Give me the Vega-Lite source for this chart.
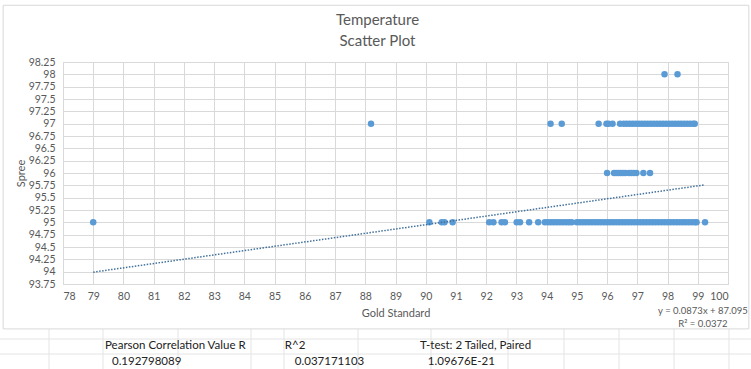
{
  "$schema": "https://vega.github.io/schema/vega-lite/v6.json",
  "width": 665,
  "height": 222,
  "autosize": {"type": "none"},
  "padding": {"left": 63, "top": 62, "right": 23, "bottom": 85},
  "background": "white",
  "config": {
    "view": {"stroke": "#d9d9d9"},
    "font": "Lato",
    "axis": {"gridColor": "#d9d9d9", "domain": false, "ticks": false, "labelColor": "#595959", "labelFontSize": 10.5, "titleColor": "#595959", "titleFontSize": 11, "titleFontWeight": "normal", "labelFont": "Lato", "titleFont": "Lato"}
  },
  "title": {
    "text": ["Temperature", "Scatter Plot"],
    "fontSize": 15,
    "font": "Lato",
    "fontWeight": "normal",
    "color": "#595959",
    "anchor": "middle",
    "frame": "group",
    "dx": -18,
    "offset": -44,
    "lineHeight": 21
  },
  "datasets": {
    "frame": [{"x": 76.02, "x2": 100.69, "y": 99.4, "y2": 92.84}],
    "sheetH": [
      {"x": 75.9, "x2": 100.76, "y": 92.635, "y2": 92.635},
      {"x": 75.9, "x2": 100.76, "y": 92.331, "y2": 92.331}
    ],
    "sheetV": [
      {"x": 77.537, "x2": 77.537, "y": 92.838, "y2": 92.0},
      {"x": 79.323, "x2": 79.323, "y": 92.838, "y2": 92.0},
      {"x": 81.805, "x2": 81.805, "y": 92.838, "y2": 92.0},
      {"x": 84.22, "x2": 84.22, "y": 92.838, "y2": 92.0},
      {"x": 85.311, "x2": 85.311, "y": 92.838, "y2": 92.0},
      {"x": 87.76, "x2": 87.76, "y": 92.838, "y2": 92.0},
      {"x": 90.174, "x2": 90.174, "y": 92.838, "y2": 92.0},
      {"x": 92.722, "x2": 92.722, "y": 92.838, "y2": 92.0},
      {"x": 94.574, "x2": 94.574, "y": 92.838, "y2": 92.0},
      {"x": 96.394, "x2": 96.394, "y": 92.838, "y2": 92.0},
      {"x": 98.214, "x2": 98.214, "y": 92.838, "y2": 92.0},
      {"x": 100.033, "x2": 100.033, "y": 92.838, "y2": 92.0}
    ],
    "pts": [
      {"x": 97.9, "y": 98}, {"x": 98.33, "y": 98},
      {"x": 88.19, "y": 97}, {"x": 94.13, "y": 97}, {"x": 94.5, "y": 97}, {"x": 95.72, "y": 97}, {"x": 95.98, "y": 97}, {"x": 96.05, "y": 97}, {"x": 96.18, "y": 97}, {"x": 96.43, "y": 97},
      {"x": 96.55, "y": 97}, {"x": 96.65, "y": 97}, {"x": 96.75, "y": 97}, {"x": 96.85, "y": 97}, {"x": 96.95, "y": 97}, {"x": 97.05, "y": 97}, {"x": 97.15, "y": 97}, {"x": 97.25, "y": 97}, {"x": 97.35, "y": 97}, {"x": 97.45, "y": 97}, {"x": 97.55, "y": 97}, {"x": 97.65, "y": 97}, {"x": 97.75, "y": 97}, {"x": 97.85, "y": 97}, {"x": 97.95, "y": 97}, {"x": 98.05, "y": 97}, {"x": 98.15, "y": 97}, {"x": 98.25, "y": 97}, {"x": 98.35, "y": 97}, {"x": 98.45, "y": 97}, {"x": 98.55, "y": 97}, {"x": 98.65, "y": 97}, {"x": 98.75, "y": 97}, {"x": 98.85, "y": 97}, {"x": 98.9, "y": 97},
      {"x": 96.0, "y": 96}, {"x": 96.23, "y": 96}, {"x": 96.3, "y": 96}, {"x": 96.38, "y": 96}, {"x": 96.45, "y": 96}, {"x": 96.52, "y": 96}, {"x": 96.6, "y": 96}, {"x": 96.72, "y": 96}, {"x": 96.8, "y": 96}, {"x": 96.88, "y": 96}, {"x": 96.97, "y": 96}, {"x": 97.2, "y": 96}, {"x": 97.42, "y": 96},
      {"x": 79.0, "y": 95}, {"x": 90.12, "y": 95}, {"x": 90.53, "y": 95}, {"x": 90.62, "y": 95}, {"x": 90.89, "y": 95}, {"x": 92.1, "y": 95}, {"x": 92.24, "y": 95}, {"x": 92.51, "y": 95}, {"x": 92.62, "y": 95}, {"x": 93.01, "y": 95}, {"x": 93.12, "y": 95}, {"x": 93.42, "y": 95}, {"x": 93.72, "y": 95},
      {"x": 93.94, "y": 95}, {"x": 94.04, "y": 95}, {"x": 94.14, "y": 95}, {"x": 94.24, "y": 95}, {"x": 94.34, "y": 95}, {"x": 94.44, "y": 95}, {"x": 94.54, "y": 95}, {"x": 94.64, "y": 95}, {"x": 94.74, "y": 95}, {"x": 94.83, "y": 95},
      {"x": 95.0, "y": 95}, {"x": 95.1, "y": 95}, {"x": 95.2, "y": 95}, {"x": 95.3, "y": 95}, {"x": 95.4, "y": 95}, {"x": 95.5, "y": 95}, {"x": 95.6, "y": 95}, {"x": 95.7, "y": 95}, {"x": 95.8, "y": 95}, {"x": 95.9, "y": 95}, {"x": 96.0, "y": 95}, {"x": 96.1, "y": 95}, {"x": 96.2, "y": 95},
      {"x": 96.3, "y": 95}, {"x": 96.4, "y": 95}, {"x": 96.5, "y": 95}, {"x": 96.6, "y": 95}, {"x": 96.7, "y": 95}, {"x": 96.8, "y": 95}, {"x": 96.9, "y": 95}, {"x": 97.0, "y": 95}, {"x": 97.1, "y": 95}, {"x": 97.2, "y": 95}, {"x": 97.3, "y": 95}, {"x": 97.4, "y": 95}, {"x": 97.5, "y": 95}, {"x": 97.6, "y": 95}, {"x": 97.7, "y": 95}, {"x": 97.8, "y": 95}, {"x": 97.9, "y": 95}, {"x": 98.0, "y": 95}, {"x": 98.1, "y": 95}, {"x": 98.2, "y": 95}, {"x": 98.3, "y": 95}, {"x": 98.4, "y": 95}, {"x": 98.5, "y": 95}, {"x": 98.6, "y": 95}, {"x": 98.7, "y": 95}, {"x": 98.8, "y": 95}, {"x": 98.9, "y": 95}, {"x": 98.96, "y": 95},
      {"x": 99.24, "y": 95}
    ],
    "trend": [{"x": 79.0, "y": 93.99}, {"x": 99.24, "y": 95.76}],
    "eq": [
      {"x": 99.17, "y": 93.2, "t": "y = 0.0873x + 87.095"},
      {"x": 99.17, "y": 92.94, "t": "R² = 0.0372"}
    ],
    "table": [
      {"x": 79.39, "y": 92.49, "t": "Pearson Correlation Value R"},
      {"x": 79.62, "y": 92.17, "t": "0.192798089"},
      {"x": 85.34, "y": 92.49, "t": "R^2"},
      {"x": 85.67, "y": 92.17, "t": "0.037171103"},
      {"x": 89.81, "y": 92.49, "t": "T-test: 2 Tailed, Paired"},
      {"x": 90.07, "y": 92.17, "t": "1.09676E-21"}
    ]
  },
  "encoding": {
    "x": {
      "field": "x", "type": "quantitative",
      "scale": {"domain": [78, 100], "nice": false, "zero": false},
      "axis": {"title": "Gold Standard", "values": [78,79,80,81,82,83,84,85,86,87,88,89,90,91,92,93,94,95,96,97,98,99,100], "format": "d", "labelPadding": 7, "titlePadding": 6}
    },
    "y": {
      "field": "y", "type": "quantitative",
      "scale": {"domain": [93.75, 98.25], "nice": false, "zero": false},
      "axis": {"title": "Spree", "values": [93.75,94,94.25,94.5,94.75,95,95.25,95.5,95.75,96,96.25,96.5,96.75,97,97.25,97.5,97.75,98,98.25], "format": ".2~f", "labelPadding": 8, "titlePadding": 2}
    }
  },
  "layer": [
    {
      "data": {"name": "sheetH"},
      "mark": {"type": "rule", "stroke": "#e4e4e4", "strokeWidth": 1},
      "encoding": {"x2": {"field": "x2"}, "y2": {"field": "y2"}}
    },
    {
      "data": {"name": "sheetV"},
      "mark": {"type": "rule", "stroke": "#e4e4e4", "strokeWidth": 1},
      "encoding": {"x2": {"field": "x2"}, "y2": {"field": "y2"}}
    },
    {
      "data": {"name": "frame"},
      "mark": {"type": "rect", "fill": null, "stroke": "#d9d9d9", "strokeWidth": 1},
      "encoding": {"x2": {"field": "x2"}, "y2": {"field": "y2"}}
    },
    {
      "data": {"name": "pts"},
      "mark": {"type": "circle", "size": 42, "color": "#5b9bd5", "opacity": 1}
    },
    {
      "data": {"name": "trend"},
      "mark": {"type": "line", "color": "#41719c", "strokeWidth": 1.5, "strokeDash": [1.5, 1.5]}
    },
    {
      "data": {"name": "eq"},
      "mark": {"type": "text", "align": "center", "baseline": "middle", "fontSize": 9.5, "color": "#595959", "font": "Lato"},
      "encoding": {"text": {"field": "t"}}
    },
    {
      "data": {"name": "table"},
      "mark": {"type": "text", "align": "left", "baseline": "middle", "fontSize": 11.5, "color": "#222222", "font": "Lato"},
      "encoding": {"text": {"field": "t"}}
    }
  ]
}
